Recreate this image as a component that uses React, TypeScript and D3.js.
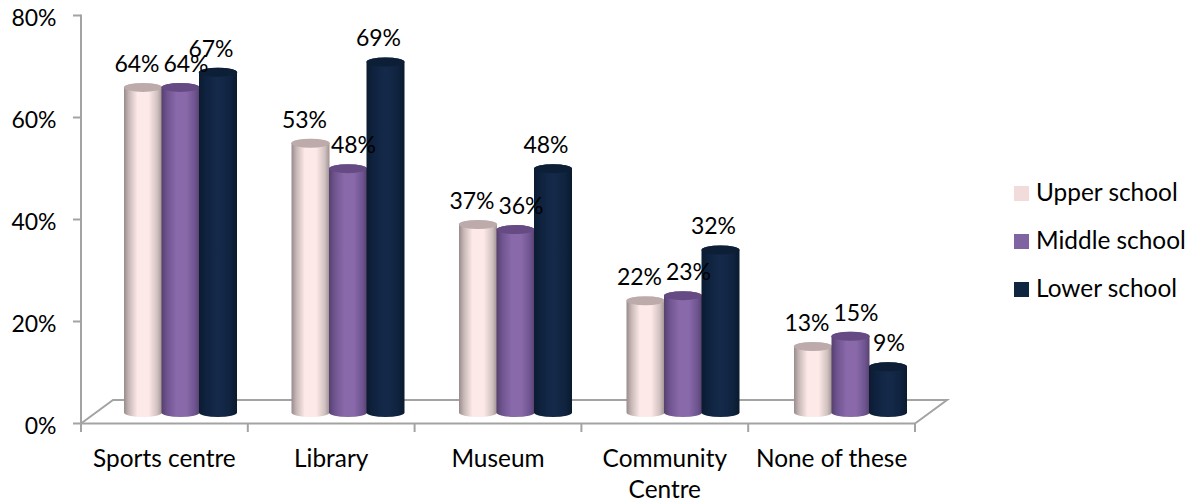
import React from "react";
import * as d3 from "d3";

const categories = ["Sports centre", "Library", "Museum", "Community Centre", "None of these"];
const upperSchool = [64, 53, 37, 22, 13];
const middleSchool = [64, 48, 36, 23, 15];
const lowerSchool = [67, 69, 48, 32, 9];
const yTicks = [0, 20, 40, 60, 80];

const FONT = "Lato, Carlito, sans-serif";
const AXIS = "#a3a3a3";

const series = [
  { name: "Upper school", values: upperSchool, id: "u", swatch: "#f2dcdb", top: "#bcabaa", labelDx: -6,
    stops: [[0, "#988b8b"], [0.12, "#c4b5b4"], [0.35, "#fde9e7"], [0.65, "#fde9e7"], [0.88, "#cfc0bf"], [1, "#a09292"]] },
  { name: "Middle school", values: middleSchool, id: "m", swatch: "#8064a2", top: "#654a83", labelDx: 5.5,
    stops: [[0, "#56406e"], [0.15, "#6f5490"], [0.4, "#8a69aa"], [0.65, "#8a69aa"], [0.88, "#6e5490"], [1, "#58426f"]] },
  { name: "Lower school", values: lowerSchool, id: "l", swatch: "#10253f", top: "#0c1f36", labelDx: -7,
    stops: [[0, "#0b1b30"], [0.2, "#0f2340"], [0.5, "#15294a"], [0.8, "#102441"], [1, "#0a1a2e"]] },
];

const x = d3.scaleBand<string>().domain(categories).range([81, 915]).paddingInner(0);
const groupX = d3.scaleBand<string>().domain(categories).range([124, 961.5]).paddingInner(0);
const axisY = d3.scaleLinear().domain([0, 80]).range([423.5, 15.5]);
const barY = d3.scaleLinear().domain([0, 80]).range([412.5, 6.1]);
const pct = d3.format(".0%");

const BAR_W = 38;
const BAR_STEP = 37.5;
const RY = 4.5;

function cylinder(left: number, top: number, base: number) {
  const r = BAR_W / 2;
  return `M${left},${top}L${left},${base}A${r},${RY} 0 0 0 ${left + BAR_W},${base}L${left + BAR_W},${top}A${r},${RY} 0 0 0 ${left},${top}Z`;
}

export default function App() {
  const floorTicks = [...categories.map((c) => x(c)!), 915];
  return (
    <svg width={1195} height={503} style={{ position: "absolute", left: 0, top: 0, fontFamily: FONT }}>
      <defs>
        {series.map((s) => (
          <linearGradient key={s.id} id={`grad-${s.id}`} x1="0" x2="1" y1="0" y2="0">
            {s.stops.map(([o, c]) => (
              <stop key={String(o)} offset={o as number} stopColor={c as string} />
            ))}
          </linearGradient>
        ))}
      </defs>

      <g fill="none" stroke={AXIS} strokeWidth={2}>
        <path d={`M81,${axisY(0)}L113,400L947,400L915,${axisY(0)}`} />
        <line x1={81} x2={81} y1={axisY(80) - 1} y2={axisY(0)} />
        <line x1={73} x2={915} y1={axisY(0)} y2={axisY(0)} />
        {yTicks.slice(1).map((t) => (
          <line key={t} x1={73} x2={81} y1={axisY(t)} y2={axisY(t)} />
        ))}
        {floorTicks.map((t, i) => (
          <line key={i} x1={t} x2={t} y1={axisY(0)} y2={432} />
        ))}
      </g>

      {yTicks.map((t) => (
        <text key={t} x={56.5} y={axisY(t) + 10} textAnchor="end" fontSize={23} fill="#000">
          {pct(t / 100)}
        </text>
      ))}

      {series.map((s, si) => (
        <g key={s.id}>
          {categories.map((c, ci) => {
            const left = groupX(c)! + si * BAR_STEP;
            const top = barY(s.values[ci]);
            return (
              <g key={c}>
                <path d={cylinder(left, top, barY(0))} fill={`url(#grad-${s.id})`} />
                <ellipse cx={left + BAR_W / 2} cy={top} rx={BAR_W / 2} ry={RY} fill={s.top} />
              </g>
            );
          })}
        </g>
      ))}

      {series.map((s, si) =>
        categories.map((c, ci) => {
          const left = groupX(c)! + si * BAR_STEP;
          const v = s.values[ci];
          const dx = v < 10 ? 1 : s.labelDx;
          return (
            <text key={s.id + c} x={left + BAR_W / 2 + dx} y={barY(v) - 15.5} textAnchor="middle" fontSize={23} fill="#000">
              {pct(v / 100)}
            </text>
          );
        })
      )}

      {categories.map((c) => {
        const words = c === "Community Centre" ? c.split(" ") : [c];
        const cx = x(c)! + x.bandwidth() / 2;
        return (
          <text key={c} x={cx} y={467} textAnchor="middle" fontSize={24.4} fill="#000">
            {words.map((w, i) => (
              <tspan key={w} x={cx} dy={i === 0 ? 0 : 31}>
                {w}
              </tspan>
            ))}
          </text>
        );
      })}

      {series.map((s, i) => (
        <g key={s.id} transform={`translate(1014,${186 + i * 48})`}>
          <rect width={15} height={15} fill={s.swatch} />
          <text x={22} y={14.5} fontSize={24.4} fill="#000">
            {s.name}
          </text>
        </g>
      ))}
    </svg>
  );
}
